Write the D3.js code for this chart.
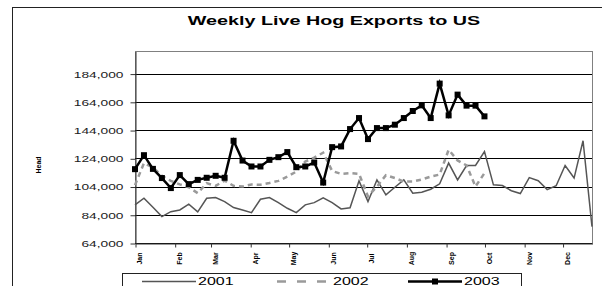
<!DOCTYPE html>
<html>
<head>
<meta charset="utf-8">
<script src="https://cdn.jsdelivr.net/npm/d3@7"></script>
<style>
  body { margin: 0; background: #fff; }
  svg { display: block; font-family: "Liberation Sans", Arial, sans-serif; }
</style>
</head>
<body>
<svg id="chart" width="602" height="286"></svg>
<script>
// weekly head counts, week 0 = first week of January
const weekStart = new Date(2001, 0, 1);
const hogs2001 = [91000, 95700, 89300, 82700, 86200, 87400, 91500, 86000, 95700, 96200,
                  93300, 89100, 87400, 85500, 95000, 96200, 92600, 88600, 85500, 91000,
                  92600, 96000, 92600, 88100, 88900, 108000, 93300, 108700, 98100, 103500,
                  108700, 99300, 100000, 102100, 105900, 120600, 108700, 118900, 118900, 128800,
                  105200, 104700, 101000, 99000, 110300, 108100, 101800, 104600, 118900, 110000,
                  136400, 75600];
const hogs2002 = [105000, 120600, 117500, 111600, 108000, 105500, 103500, 99300, 106400, 104500,
                  108200, 104500, 104000, 105500, 105200, 106500, 108000, 111000, 114600, 121700,
                  124500, 128000, 115000, 113000, 113500, 113000, 97000, 104000, 112000, 110000,
                  107500, 107500, 109000, 111000, 112500, 130000, 122500, 119000, 104000, 113500];
const hogs2003 = [116300, 126200, 116500, 110000, 102900, 112100, 105700, 108700, 110200, 111600,
                  110200, 136400, 122400, 118200, 118200, 122900, 124800, 128400, 117700, 118200,
                  121000, 106800, 131900, 132400, 144700, 152500, 137600, 145400, 145400, 147800,
                  152500, 157500, 161500, 152500, 176900, 154400, 169100, 161300, 161300, 153700];
const yTicks = [64000, 84000, 104000, 124000, 144000, 164000, 184000];
const monthLabels = ["Jan", "Feb", "Mar", "Apr", "May", "Jun", "Jul", "Aug", "Sep", "Oct", "Nov", "Dec"];
const yearLabels = ["2001", "2002", "2003"];

const svg = d3.select("#chart");
const W = 602, H = 286;
const plot = { left: 135, right: 592, top: 51, bottom: 243 };

// outer chart frame (runs off the right and bottom edge)
svg.append("rect")
    .attr("x", 12.5).attr("y", 7.5)
    .attr("width", W).attr("height", H)
    .attr("fill", "none").attr("stroke", "#222");

// title, glyphs stretched wide like the reference
svg.append("text")
    .attr("transform", "translate(334,25) scale(1.58,1)")
    .attr("text-anchor", "middle")
    .attr("font-size", 12.5).attr("font-weight", "bold")
    .text("Weekly Live Hog Exports to US");

// scales
const weekDate = i => d3.timeDay.offset(weekStart, 7 * i);
const x = d3.scaleTime()
    .domain([weekStart, weekDate(hogs2001.length - 1)])
    .range([plot.left, plot.right]);
const y = d3.scaleLinear()
    .domain([64000, 200000])
    .range([plot.bottom, plot.top]);

// plot area border
svg.append("rect")
    .attr("x", plot.left + 0.5).attr("y", plot.top + 0.5)
    .attr("width", plot.right - plot.left).attr("height", plot.bottom - plot.top)
    .attr("fill", "none").attr("stroke", "#808080");

// gridlines
svg.append("g").selectAll("line")
    .data(yTicks)
    .join("line")
    .attr("x1", plot.left).attr("x2", plot.right)
    .attr("y1", d => Math.round(y(d)) + 0.5).attr("y2", d => Math.round(y(d)) + 0.5)
    .attr("stroke", "#000").attr("stroke-width", 1);

// axes
const yAxis = svg.append("g")
    .attr("transform", `translate(${plot.left + 0.5},0.5)`)
    .call(d3.axisLeft(y).tickValues(yTicks).tickSize(5).tickSizeOuter(0).tickFormat(d3.format(",")));
yAxis.select(".domain").attr("stroke", "#333");
yAxis.selectAll(".tick line").attr("stroke", "#333");
yAxis.selectAll(".tick text")
    .attr("x", 0).attr("dy", "0.34em")
    .attr("transform", "translate(-12,0) scale(1.6,1)")
    .attr("font-size", 8.6).attr("fill", "#222")
    .attr("font-family", "Liberation Sans, Arial, sans-serif");

const xAxis = svg.append("g")
    .attr("transform", `translate(0.5,${plot.bottom + 0.5})`)
    .call(d3.axisBottom(x).ticks(d3.timeMonth.every(1)).tickSize(4).tickSizeOuter(0)
        .tickFormat(d => monthLabels[d.getMonth()]));
xAxis.select(".domain").attr("stroke", "#333");
xAxis.selectAll(".tick line").attr("stroke", "#333");
xAxis.selectAll(".tick text")
    .attr("x", 0).attr("y", 0).attr("dy", "0.35em")
    .attr("transform", "translate(4,15) rotate(-90)")
    .attr("text-anchor", "middle")
    .attr("font-size", 7).attr("font-weight", "bold").attr("fill", "#000")
    .attr("font-family", "Liberation Sans, Arial, sans-serif");

// y axis title
svg.append("text")
    .attr("transform", "translate(39,165) rotate(-90)")
    .attr("text-anchor", "middle").attr("dy", "0.35em")
    .attr("font-size", 7).attr("font-weight", "bold")
    .text("Head");

// series
const line = d3.line()
    .x((d, i) => x(weekDate(i)))
    .y(d => y(d));

svg.append("path")
    .datum(hogs2001)
    .attr("d", line)
    .attr("fill", "none").attr("stroke", "#555").attr("stroke-width", 1.5);

svg.append("path")
    .datum(hogs2002)
    .attr("d", line)
    .attr("fill", "none").attr("stroke", "#9a9a9a").attr("stroke-width", 2.5)
    .attr("stroke-dasharray", "5,4");

svg.append("path")
    .datum(hogs2003)
    .attr("d", line)
    .attr("fill", "none").attr("stroke", "#000").attr("stroke-width", 2.5);

svg.append("g").selectAll("rect")
    .data(hogs2003)
    .join("rect")
    .attr("x", (d, i) => x(weekDate(i)) - 3)
    .attr("y", d => y(d) - 3)
    .attr("width", 6).attr("height", 6)
    .attr("fill", "#000");

// legend
const legend = svg.append("g");
legend.append("rect")
    .attr("x", 122.5).attr("y", 273.5)
    .attr("width", 399).attr("height", 20)
    .attr("fill", "#fff").attr("stroke", "#222");

const legendItems = [
    { x: 142, stroke: "#555", width: 1.5, dash: null, marker: false },
    { x: 277, stroke: "#9a9a9a", width: 2.5, dash: "9,11", marker: false },
    { x: 408, stroke: "#000", width: 2.5, dash: null, marker: true }
];
legendItems.forEach((it, k) => {
    legend.append("line")
        .attr("x1", it.x).attr("x2", it.x + 54)
        .attr("y1", 281.5).attr("y2", 281.5)
        .attr("stroke", it.stroke).attr("stroke-width", it.width)
        .attr("stroke-dasharray", it.dash);
    if (it.marker) {
        legend.append("rect")
            .attr("x", it.x + 24).attr("y", 278.5)
            .attr("width", 6).attr("height", 6).attr("fill", "#000");
    }
    legend.append("text")
        .attr("transform", `translate(${it.x + 56},285) scale(1.6,1)`)
        .attr("font-size", 10)
        .text(yearLabels[k]);
});
</script>
</body>
</html>
